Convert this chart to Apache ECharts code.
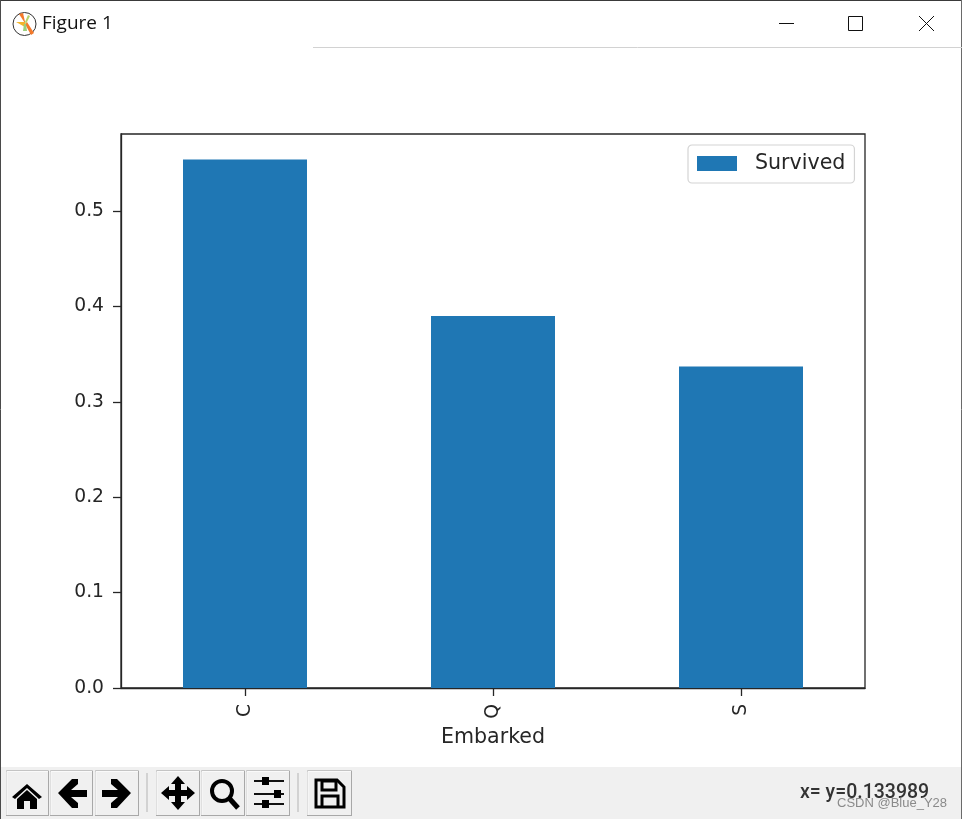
<!DOCTYPE html>
<html><head><meta charset="utf-8">
<style>html,body{margin:0;padding:0;background:#fff}#c{width:962px;height:819px}</style>
<script src="https://cdn.jsdelivr.net/npm/echarts@6/dist/echarts.min.js"></script>
</head><body><div id="c"></div>
<script>
var categories = ['C', 'Q', 'S'];
var survived = [0.554, 0.39, 0.337];
var seriesName = 'Survived';
var xAxisName = 'Embarked';
var windowTitle = 'Figure 1';
var statusText = 'x= y=0.133989';
var watermark = 'CSDN @Blue_Y28';

var chart = echarts.init(document.getElementById('c'), null, {renderer: 'canvas'});
var ink = '#262626', font = 'DejaVu Sans';
var g = [];
function rect(x, y, w, h, fill, stroke, lw, z) {
  g.push({type: 'rect', z: z || 5, shape: {x: x, y: y, width: w, height: h},
    style: {fill: fill || 'none', stroke: stroke || 'none', lineWidth: lw || 1}});
}
function path(d, fill, stroke, lw) {
  var nums = d.match(/-?[\d.]+/g).map(Number), pts = [];
  for (var i = 0; i < nums.length; i += 2) pts.push([nums[i], nums[i + 1]]);
  g.push({type: /Z\s*$/.test(d) ? 'polygon' : 'polyline', z: 7, shape: {points: pts},
    style: {fill: fill || 'none', stroke: stroke || 'none', lineWidth: lw || 1}});
}
function line(x1, y1, x2, y2, c, lw) {
  g.push({type: 'line', z: 7, shape: {x1: x1, y1: y1, x2: x2, y2: y2}, style: {stroke: c, lineWidth: lw || 1}});
}
// frame of the window
line(0, 0.5, 962, 0.5, '#3a3a3a', 1);
line(0.5, 0, 0.5, 819, '#4a4a4a', 1);
line(961.5, 0, 961.5, 819, '#6a6a6a', 1);
line(313, 47.5, 962, 47.5, '#d2d2d2', 1);
// title bar icon
g.push({type: 'circle', z: 7, shape: {cx: 24.5, cy: 24, r: 11.5}, style: {fill: '#fff', stroke: '#333', lineWidth: 1}});
path('M19 14 L23 13 L25.5 24 Z', '#f4792a');
path('M25 24 L27 22 L34 33 L31 35 Z', '#f4792a');
path('M16 22 L25 22 L25 27 Z', '#f3b52b');
path('M24 24 L26 24 L27 31 L23 31 Z', '#9ccf7c');
path('M25 22 L28 15 L30 16 L26 24 Z', '#b6d36a');
g.push({type: 'text', z: 7, style: {x: 42, y: 24, text: windowTitle, fill: '#111', font: '19px "Open Sans"', verticalAlign: 'middle'}});
// window controls
line(779, 23.5, 794, 23.5, '#111', 1);
rect(848.5, 16.5, 14, 14, 'none', '#111', 1, 7);
line(919, 16, 934, 31, '#111', 1);
line(934, 16, 919, 31, '#111', 1);
// toolbar
rect(1, 767, 960, 52, '#f0f0f0');
var buttons = [[6, 42], [50, 42], [95, 43], [156, 43], [201, 43], [246, 43], [307, 44]];
buttons.forEach(function (b) {
  rect(b[0] + 0.5, 770.5, b[1], 45, '#f0f0f0', '#c4c4c4', 1, 6);
  line(b[0] + 1, 771.5, b[0] + b[1], 771.5, '#fafafa', 1);
  line(b[0] + 1, 771.5, b[0] + 1, 815, '#fafafa', 1);
  line(b[0] + b[1] + 0.5, 771, b[0] + b[1] + 0.5, 816, '#a8a8a8', 1);
  line(b[0], 815.5, b[0] + b[1], 815.5, '#a8a8a8', 1);
});
line(147, 773, 147, 812, '#c8c8c8', 1.5);
line(298, 773, 298, 812, '#c8c8c8', 1.5);
// home
path('M27 784 L42 797 L39 799 L27 788 L15 799 L12 797 Z', '#000');
path('M17 799 L27 790 L37 799 L37 809 L30 809 L30 801 L24 801 L24 809 L17 809 Z', '#000');
// back
path('M58 793 L72 779 L78 779 L78 784 L71 790 L87 790 L87 797 L71 797 L78 803 L78 808 L72 808 Z', '#000');
// forward
path('M131 793 L117 779 L111 779 L111 784 L118 790 L102 790 L102 797 L118 797 L111 803 L111 808 L117 808 Z', '#000');
// move
path('M178 776 L185 784 L181 784 L181 790 L187 790 L187 786 L195 793 L187 800 L187 796 L181 796 L181 802 L185 802 L178 810 L171 802 L175 802 L175 796 L169 796 L169 800 L161 793 L169 786 L169 790 L175 790 L175 784 L171 784 Z', '#000');
// zoom
g.push({type: 'circle', z: 7, shape: {cx: 222, cy: 791, r: 10}, style: {fill: 'none', stroke: '#000', lineWidth: 4}});
line(229, 798, 238, 808, '#000', 5);
// configure
[[781, 262], [794, 274], [804, 262]].forEach(function (s) {
  line(254, s[0], 284, s[0], '#111', 2);
  rect(s[1], s[0] - 4, 7, 8, '#000', null, 1, 8);
});
// save
path('M316 780 L337 780 L344 787 L344 807 L316 807 Z', 'none', '#000', 3);
path('M322 781 L336 781 L336 790 L322 790 Z', 'none', '#000', 3);
path('M322 807 L322 796 L338 796 L338 807', 'none', '#000', 3);
g.push({type: 'text', z: 8, style: {x: 800, y: 793, text: statusText, fill: '#333', font: '500 19.5px Roboto', verticalAlign: 'middle'}});
g.push({type: 'text', z: 9, style: {x: 837, y: 803, text: watermark, fill: 'rgba(120,120,120,0.85)', font: '13px "Liberation Sans"', verticalAlign: 'middle'}});

chart.setOption({
  animation: false,
  backgroundColor: '#ffffff',
  grid: {left: 121, right: 97, top: 134, bottom: 131, show: true, borderColor: ink, borderWidth: 1.3, backgroundColor: 'transparent'},
  legend: {
    data: [seriesName], left: 688, top: 145, orient: 'horizontal', padding: [8, 9, 9, 9],
    itemWidth: 40, itemHeight: 15, icon: 'rect',
    backgroundColor: 'rgba(255,255,255,0.8)', borderColor: '#d4d4d4', borderWidth: 1.2, borderRadius: 4,
    textStyle: {color: ink, fontFamily: font, fontSize: 20.6, padding: [0, 0, 0, 13]}
  },
  xAxis: {
    type: 'category', data: categories, boundaryGap: true,
    name: xAxisName, nameLocation: 'middle', nameGap: 39,
    nameTextStyle: {color: ink, fontFamily: font, fontSize: 20.6},
    axisLine: {show: true, lineStyle: {color: ink, width: 1.3}},
    axisTick: {show: true, alignWithLabel: true, length: 8, lineStyle: {color: ink, width: 1.3}},
    axisLabel: {color: ink, fontFamily: font, fontSize: 18.7, rotate: 90, margin: 16}
  },
  yAxis: {
    type: 'value', min: 0, max: 0.5807, interval: 0.1,
    splitLine: {show: false},
    axisLine: {show: true, lineStyle: {color: ink, width: 1.3}},
    axisTick: {show: true, length: 8, lineStyle: {color: ink, width: 1.3}},
    axisLabel: {color: ink, fontFamily: font, fontSize: 18.7, margin: 17, showMaxLabel: false, padding: [3, 0, 0, 0],
      formatter: function (v) { return v.toFixed(1); }}
  },
  series: [{name: seriesName, type: 'bar', data: survived, barWidth: '50%', itemStyle: {color: '#1f77b4'}}],
  graphic: g
});
</script></body></html>
